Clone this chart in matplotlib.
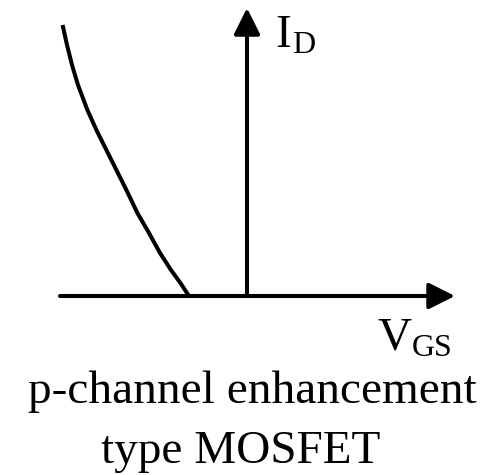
import matplotlib
matplotlib.use("Agg")
from matplotlib import pyplot as plt

# transfer curve (V_GS in V, I_D in mA)
vgs = [-9.22, -9.0, -8.75, -8.45, -7.98, -7.53, -7.03, -6.53, -6.03, -5.48,
       -4.9, -4.35, -3.8, -3.33, -2.9]
i_d = [13.55, 12.55, 11.55, 10.55, 9.3, 8.3, 7.3, 6.3, 5.3, 4.15,
       3.15, 2.15, 1.3, 0.65, 0.0]

x_label = "V"
x_sub = "GS"
y_label = "I"
y_sub = "D"
caption = ["p-channel enhancement", "type MOSFET"]

plt.rcParams['font.family'] = ['Liberation Serif', 'DejaVu Serif']

fig = plt.figure(figsize=(5.01, 4.75), dpi=100)
ax = fig.add_axes([0, 0, 1, 1])
ax.set_xlim(-12.35, 12.7)
ax.set_ylim(-8.95, 14.8)
ax.axis('off')

arrow = dict(arrowstyle='-|>,head_length=0.4,head_width=0.2', lw=2.9,
             color='black', mutation_scale=40, shrinkA=0, shrinkB=0)
# V_GS axis
ax.annotate('', xy=(10.4, 0), xytext=(-9.35, 0), arrowprops=arrow)
# I_D axis
ax.annotate('', xy=(0, 14.4), xytext=(0, 0), arrowprops=arrow)

ax.plot(vgs, i_d, color='black', lw=2.9, solid_capstyle='butt',
        solid_joinstyle='round')

ax.text(1.4, 12.45, y_label, fontsize=34, va='baseline', ha='left')
ax.text(2.25, 12.15, y_sub, fontsize=23, va='baseline', ha='left')
ax.text(6.5, -2.7, x_label, fontsize=34, va='baseline', ha='left')
ax.text(8.25, -3.0, x_sub, fontsize=23, va='baseline', ha='left')

ax.text(0.27, -5.35, caption[0], fontsize=34, va='baseline', ha='center')
ax.text(-0.3, -8.35, caption[1], fontsize=34, va='baseline', ha='center')

plt.savefig("out.png", dpi=100)
plt.close()
